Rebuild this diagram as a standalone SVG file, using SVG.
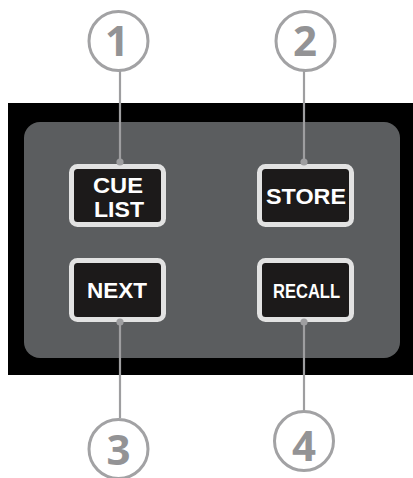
<svg xmlns="http://www.w3.org/2000/svg" width="413" height="478" viewBox="0 0 413 478">
<style>
.callout{fill:#ffffff;stroke:#a2a2a4;stroke-width:3}
.num{font-family:"Open Sans","Liberation Sans",sans-serif;font-weight:700;font-size:42px;fill:#939395;text-anchor:middle}
.btn{fill:#1c1a1a;stroke:#e2e2e2;stroke-width:5}
.lbl{font-family:"Liberation Sans",Arial,sans-serif;font-weight:700;fill:#ffffff;text-anchor:middle}
.lead{stroke:#9e9ea0;stroke-width:2.2;fill:none}
.dot{fill:#9e9ea0}
</style>
<rect x="0" y="0" width="413" height="478" fill="#ffffff"/>
<g id="panel">
<rect x="8" y="103" width="405" height="272" fill="#000000"/>
<rect x="24" y="122" width="376" height="236" rx="16" fill="#5b5d5f"/>
</g>
<g id="connectors">
<line class="lead" x1="120" y1="71" x2="120" y2="162"/>
<line class="lead" x1="304" y1="71" x2="304" y2="162"/>
<line class="lead" x1="120" y1="322" x2="120" y2="418"/>
<line class="lead" x1="304" y1="322" x2="304" y2="411"/>
</g>
<g id="btn-cuelist">
<rect class="btn" x="71.5" y="166.5" width="92" height="58" rx="6"/>
<text class="lbl" font-size="22" x="118" y="193" textLength="50" lengthAdjust="spacingAndGlyphs">CUE</text>
<text class="lbl" font-size="22" x="119" y="217" textLength="50" lengthAdjust="spacingAndGlyphs">LIST</text>
<circle class="dot" cx="120" cy="162" r="3.6"/>
</g>
<g id="btn-store">
<rect class="btn" x="259.5" y="166.5" width="92" height="58" rx="6"/>
<text class="lbl" font-size="22.5" x="306" y="204" textLength="80" lengthAdjust="spacingAndGlyphs">STORE</text>
<circle class="dot" cx="304" cy="162" r="3.6"/>
</g>
<g id="btn-next">
<rect class="btn" x="71.5" y="260.5" width="92" height="59" rx="6"/>
<text class="lbl" font-size="22.5" x="117" y="298" textLength="60" lengthAdjust="spacingAndGlyphs">NEXT</text>
<circle class="dot" cx="120" cy="322" r="3.6"/>
</g>
<g id="btn-recall">
<rect class="btn" x="259.5" y="260.5" width="92" height="59" rx="6"/>
<text class="lbl" font-size="19.5" x="306.5" y="298" textLength="67" lengthAdjust="spacingAndGlyphs">RECALL</text>
<circle class="dot" cx="304" cy="322" r="3.6"/>
</g>
<g id="callout-1">
<circle class="callout" cx="118.5" cy="41" r="29.5"/>
<text class="num" x="117" y="56">1</text>
</g>
<g id="callout-2">
<circle class="callout" cx="305.5" cy="41" r="29.5"/>
<text class="num" x="305" y="56">2</text>
</g>
<g id="callout-3">
<circle class="callout" cx="118.5" cy="449" r="29.5"/>
<text class="num" x="118.5" y="465">3</text>
</g>
<g id="callout-4">
<circle class="callout" cx="304" cy="441" r="29.5"/>
<text class="num" x="304" y="461">4</text>
</g>
</svg>
